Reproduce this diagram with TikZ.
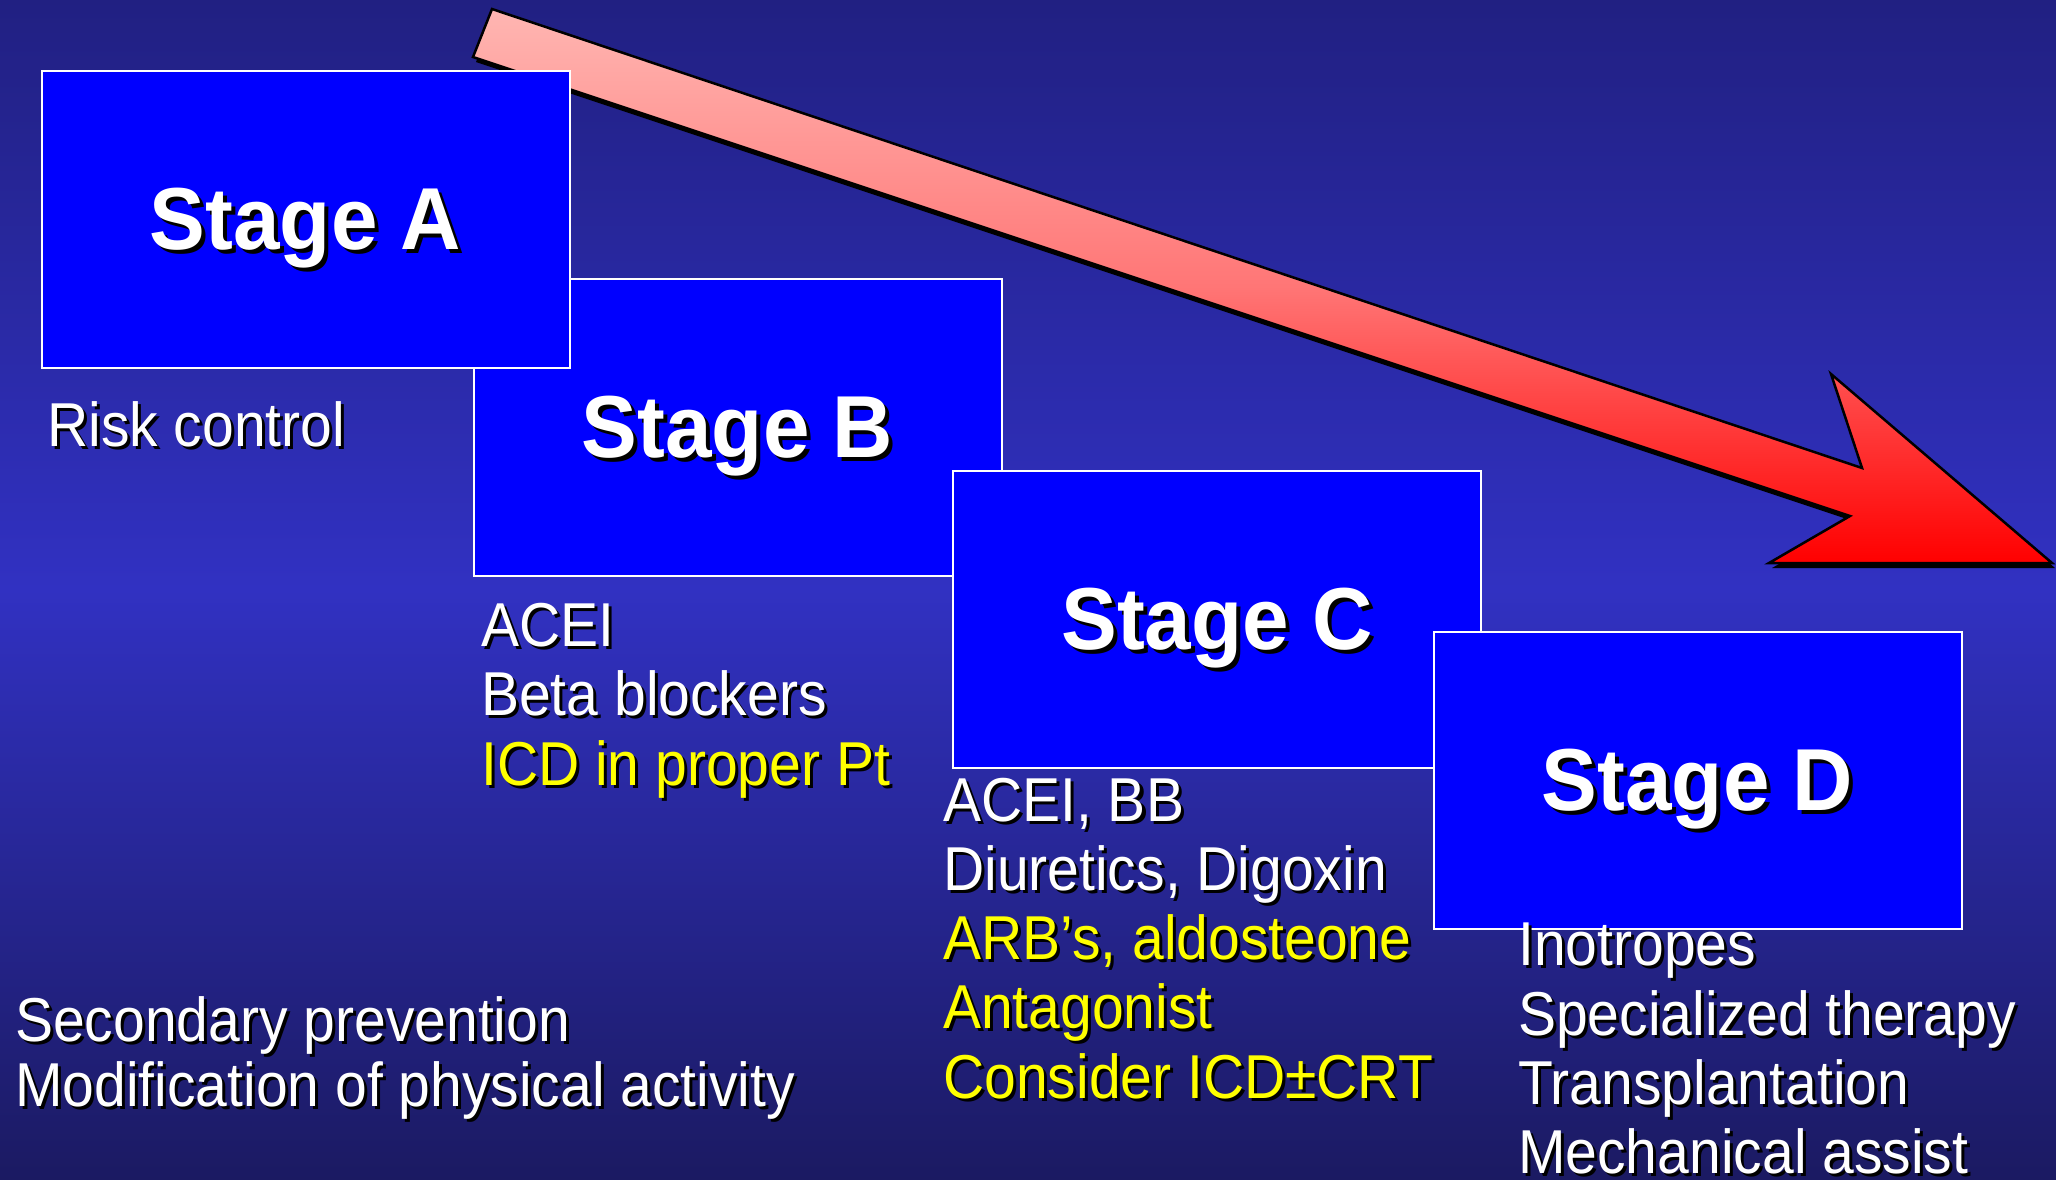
\documentclass[tikz,border=0pt]{standalone}
\usepackage{fontspec}
\setmainfont{Liberation Sans}
\newfontfamily\bodyfont[FakeStretch=0.92]{Liberation Sans}
\newfontfamily\stagefont[FakeStretch=0.95]{Liberation Sans}
\definecolor{bgtop}{RGB}{33,32,130}
\definecolor{bgmid}{RGB}{49,49,194}
\definecolor{bgbot}{RGB}{27,26,98}
\definecolor{arrtop}{RGB}{255,182,178}
\definecolor{arrmid}{RGB}{255,118,118}
\definecolor{arrbot}{RGB}{255,0,0}
\definecolor{stageblue}{RGB}{0,0,255}
\definecolor{hlyellow}{RGB}{255,255,0}
\newcommand\arrowpath{(492,9) -- (1862,468) -- (1831,374) -- (2052,563) -- (1769,563) -- (1850,516) -- (473,57) -- cycle}
\newcommand\stagelbl[3]{%
  \node[stagelabel,text=black] (#1s) at ([shift={(4,34)}]#2.center) {#3};
  \node[stagelabel] (#1) at ([shift={(0,30)}]#2.center) {#3};}
\newcommand\bodyline[5]{%
  \node[bodytext,#4,text=black] (#1s) at (#2+3,#3+3) {#5};
  \node[bodytext,#4] (#1) at (#2,#3) {#5};}
\begin{document}
\begin{tikzpicture}[x=1pt,y=-1pt,
  stagebox/.style={draw=white, line width=2pt, fill=stageblue, minimum width=528pt, minimum height=297pt, inner sep=0pt},
  stagelabel/.style={font=\stagefont\bfseries\fontsize{88}{88}\selectfont, text=white, inner sep=0pt, anchor=base},
  bodytext/.style={font=\bodyfont\fontsize{62}{62}\selectfont, text=white, inner sep=0pt, anchor=base west},
  hl/.style={text=hlyellow}]
\useasboundingbox (0,0) rectangle (2056,1179);
% background
\shade[top color=bgtop, bottom color=bgbot, middle color=bgmid] (0,0) rectangle (2056,1179);
% big arrow
\fill[black, xshift=3pt, yshift=-5pt] \arrowpath;
\path[draw=black, line width=2.5pt, line join=miter, top color=arrtop, bottom color=arrbot, middle color=arrmid] \arrowpath;
% stage boxes
\node[stagebox] (boxB) at (737.5,427.5) {};
\node[stagebox] (boxA) at (305.5,219) {};
\node[stagebox] (boxC) at (1217,619.5) {};
\node[stagebox] (boxD) at (1697.5,780) {};
\stagelbl{labA}{boxA}{Stage A}
\stagelbl{labB}{boxB}{Stage B}
\stagelbl{labC}{boxC}{Stage C}
\stagelbl{labD}{boxD}{Stage D}
% texts
\bodyline{risk}{47}{446}{}{Risk control}
\bodyline{b1}{481}{646}{}{ACEI}
\bodyline{b2}{481}{715}{}{Beta blockers}
\bodyline{b3}{481}{785}{hl}{ICD in proper Pt}
\bodyline{s1}{15}{1041}{}{Secondary prevention}
\bodyline{s2}{15}{1106}{}{Modification of physical activity}
\bodyline{c1}{943}{821}{}{ACEI, BB}
\bodyline{c2}{943}{890}{}{Diuretics, Digoxin}
\bodyline{c3}{943}{959}{hl}{ARB’s, aldosteone}
\bodyline{c4}{943}{1028}{hl}{Antagonist}
\bodyline{c5}{943}{1098}{hl}{Consider ICD±CRT}
\bodyline{d1}{1518}{965}{}{Inotropes}
\bodyline{d2}{1518}{1035}{}{Specialized therapy}
\bodyline{d3}{1518}{1104}{}{Transplantation}
\bodyline{d4}{1518}{1173}{}{Mechanical assist}
\end{tikzpicture}
\end{document}
